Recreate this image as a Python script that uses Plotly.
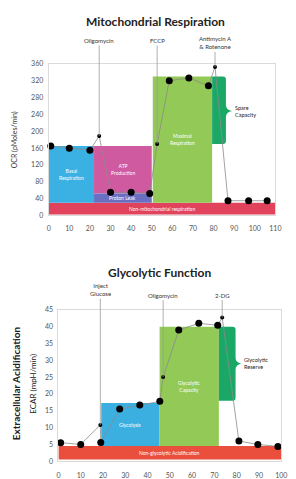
import plotly.graph_objects as go

W, H = 296, 479
FONT = "Lato"

# ---------------- Mitochondrial respiration (top) ----------------
mito_meas_time = [1, 10, 20, 30, 40, 49, 58.5, 68, 77.5, 87, 97, 106]
mito_meas_ocr = [165, 160, 155, 55, 55, 52, 320, 327, 308, 35, 35, 35]
mito_inj_names = ["Oligomycin", "FCCP", "Antimycin A<br>&amp; Rotenone"]
mito_inj_time = [24.5, 52.6, 80.7]
mito_inj_ocr = [189, 170, 353]
mito_inj_label_ocr = [416, 416, 410]

mito_xticks = list(range(0, 111, 10))
mito_yticks = list(range(0, 361, 40))

mito_region_names = ["Non-mitochondrial respiration", "Basal<br>Respiration",
                     "ATP<br>Production", "Proton Leak", "Maximal<br>Respiration"]
mito_region_x0 = [0, 0, 22, 22, 50.5]
mito_region_x1 = [110, 22, 50, 50, 79.3]
mito_region_y0 = [2, 30, 52, 30, 30]
mito_region_y1 = [30, 165, 165, 52, 330]
mito_region_colors = ["#e2435c", "#3bb0e2", "#d05aa0", "#6b6fc2", "#93c957"]

mito_spare_name = "Spare<br>Capacity"
mito_spare_x = [79.3, 86]
mito_spare_y = [170, 330]
mito_spare_tip = [89, 248]

# ---------------- Glycolytic function (bottom) ----------------
glyco_meas_time = [1, 10, 19, 27.5, 36.5, 45.5, 54, 63, 71.5, 81, 89.5, 98.5]
glyco_meas_ecar = [5.5, 5, 5.6, 15.5, 16.7, 17.8, 39, 41, 40.4, 6, 5, 4.4]
glyco_inj_names = ["Inject<br>Glucose", "Oligomycin", "2-DG"]
glyco_inj_time = [18.8, 47, 73.5]
glyco_inj_ecar = [10.8, 25, 42.7]
glyco_inj_label_ecar = [51, 49.4, 49.4]

glyco_xticks = list(range(0, 101, 10))
glyco_yticks = list(range(0, 46, 5))

glyco_region_names = ["Non-glycolytic Acidification", "Glycolysis", "Glycolytic<br>Capacity"]
glyco_region_x0 = [0, 19.2, 45.4]
glyco_region_x1 = [100, 45.4, 72]
glyco_region_y0 = [0.5, 4.5, 4.5]
glyco_region_y1 = [4.5, 17.3, 40]
glyco_region_colors = ["#e94f3c", "#3bafe0", "#93c957"]

glyco_reserve_name = "Glycolytic<br>Reserve"
glyco_reserve_x = [72, 79.5]
glyco_reserve_y = [18, 40]
glyco_reserve_tip = [82, 29]

SPARE_COLOR = "#1ba866"

# pixel layout of the two plot areas
top_px = dict(x=(48, 281), y=(60, 214))
bot_px = dict(x=(58, 287), y=(310, 464))
top_range = dict(x=(0, 110), y=(0, 360))
bot_range = dict(x=(0, 100), y=(0, 45))


def dom(px):
    return dict(x=[px["x"][0] / W, px["x"][1] / W],
                y=[1 - px["y"][1] / H, 1 - px["y"][0] / H])


def brace_path(xs, ys, tip, px, rng):
    ux = (rng["x"][1] - rng["x"][0]) / (px["x"][1] - px["x"][0])
    uy = (rng["y"][1] - rng["y"][0]) / (px["y"][1] - px["y"][0])
    x0, x1 = xs
    y0, y1 = ys
    tx, ty = tip
    rx, ry = 3 * ux, 3 * uy
    hy = 6 * uy
    return (f"M {x0},{y1} L {x1 - rx},{y1} Q {x1},{y1} {x1},{y1 - ry} "
            f"L {x1},{ty + hy} Q {x1},{ty + 0.2 * hy} {tx},{ty} "
            f"Q {x1},{ty - 0.2 * hy} {x1},{ty - hy} "
            f"L {x1},{y0 + ry} Q {x1},{y0} {x1 - rx},{y0} L {x0},{y0} Z")


fig = go.Figure()
shapes, annotations = [], []


def add_panel(xa, ya, meas_t, meas_v, inj_t, inj_v, inj_names, inj_lab,
              rn, rx0, rx1, ry0, ry1, rc, sp_name, sp_x, sp_y, sp_tip, px, rng):
    for n, a, b, c, d, col in zip(rn, rx0, rx1, ry0, ry1, rc):
        shapes.append(dict(type="rect", xref=xa, yref=ya, x0=a, x1=b, y0=c, y1=d,
                           fillcolor=col, line=dict(width=0), layer="below"))
        annotations.append(dict(x=(a + b) / 2, y=(c + d) / 2, xref=xa, yref=ya,
                                text=n, showarrow=False, xanchor="center", yanchor="middle",
                                font=dict(size=5, color="white", family=FONT)))
    shapes.append(dict(type="path", xref=xa, yref=ya,
                       path=brace_path(sp_x, sp_y, sp_tip, px, rng),
                       fillcolor=SPARE_COLOR, line=dict(width=0), layer="below"))
    annotations.append(dict(x=sp_tip[0] + 0.5, y=sp_tip[1], xref=xa, yref=ya,
                            text=sp_name, showarrow=False, xanchor="left", yanchor="middle",
                            align="left", font=dict(size=5.5, color="#222", family=FONT)))
    pts = sorted(list(zip(meas_t, meas_v)) + list(zip(inj_t, inj_v)))
    fig.add_trace(go.Scatter(x=[p[0] for p in pts], y=[p[1] for p in pts],
                             mode="lines", line=dict(color="#8a8a8a", width=0.8),
                             xaxis=xa, yaxis=ya, hoverinfo="skip", showlegend=False))
    fig.add_trace(go.Scatter(x=meas_t, y=meas_v, mode="markers",
                             marker=dict(color="black", size=7),
                             xaxis=xa, yaxis=ya, showlegend=False, cliponaxis=False))
    fig.add_trace(go.Scatter(x=inj_t, y=inj_v, mode="markers",
                             marker=dict(color="black", size=4),
                             xaxis=xa, yaxis=ya, showlegend=False, cliponaxis=False))
    for n, t, v, lv in zip(inj_names, inj_t, inj_v, inj_lab):
        annotations.append(dict(x=t, y=v, xref=xa, yref=ya, axref=xa, ayref=ya,
                                ax=t, ay=lv, text=n, showarrow=True, arrowhead=0,
                                arrowwidth=0.8, arrowcolor="#9a9a9a", standoff=0,
                                font=dict(size=6, color="#333", family=FONT)))


add_panel("x", "y", mito_meas_time, mito_meas_ocr, mito_inj_time, mito_inj_ocr,
          mito_inj_names, mito_inj_label_ocr, mito_region_names, mito_region_x0,
          mito_region_x1, mito_region_y0, mito_region_y1, mito_region_colors,
          mito_spare_name, mito_spare_x, mito_spare_y, mito_spare_tip, top_px, top_range)
add_panel("x2", "y2", glyco_meas_time, glyco_meas_ecar, glyco_inj_time, glyco_inj_ecar,
          glyco_inj_names, glyco_inj_label_ecar, glyco_region_names, glyco_region_x0,
          glyco_region_x1, glyco_region_y0, glyco_region_y1, glyco_region_colors,
          glyco_reserve_name, glyco_reserve_x, glyco_reserve_y, glyco_reserve_tip,
          bot_px, bot_range)


def paper_text(xp, yp, text, size, color="#222", angle=0):
    return dict(x=xp / W, y=1 - yp / H, xref="paper", yref="paper", showarrow=False,
                xanchor="center", yanchor="middle", textangle=angle, text=text,
                font=dict(size=size, color=color, family=FONT))


annotations += [
    paper_text(158, 17, "<b>Mitochondrial Respiration</b>", 12),
    paper_text(162, 272, "<b>Glycolytic Function</b>", 12),
    paper_text(13, 137, "OCR (pMoles/min)", 7, "#333", -90),
    paper_text(14, 385, "<b>Extracellular Acidification</b>", 10, "#222", -90),
    paper_text(31, 385, "ECAR (mpH/min)", 8, "#222", -90),
]

axis_common = dict(showgrid=False, zeroline=False, showline=True, mirror=True,
                   linecolor="#dadada", linewidth=1, ticks="outside",
                   tickcolor="rgba(0,0,0,0)",
                   tickfont=dict(size=7, color="#555", family=FONT), fixedrange=True)

d_top, d_bot = dom(top_px), dom(bot_px)
fig.update_layout(
    width=W, height=H, margin=dict(l=0, r=0, t=0, b=0),
    paper_bgcolor="white", plot_bgcolor="white", hovermode=False,
    xaxis=dict(domain=d_top["x"], range=list(top_range["x"]), tickvals=mito_xticks,
               ticklen=6, anchor="y", **axis_common),
    yaxis=dict(domain=d_top["y"], range=list(top_range["y"]), tickvals=mito_yticks,
               ticklen=3, anchor="x", **axis_common),
    xaxis2=dict(domain=d_bot["x"], range=list(bot_range["x"]), tickvals=glyco_xticks,
                ticklen=7, anchor="y2", **axis_common),
    yaxis2=dict(domain=d_bot["y"], range=list(bot_range["y"]), tickvals=glyco_yticks,
                ticklen=3, anchor="x2", **axis_common),
    shapes=shapes, annotations=annotations,
)

fig.write_html("out.html", config={"displayModeBar": False},
               post_script="document.body.style.margin='0';")
